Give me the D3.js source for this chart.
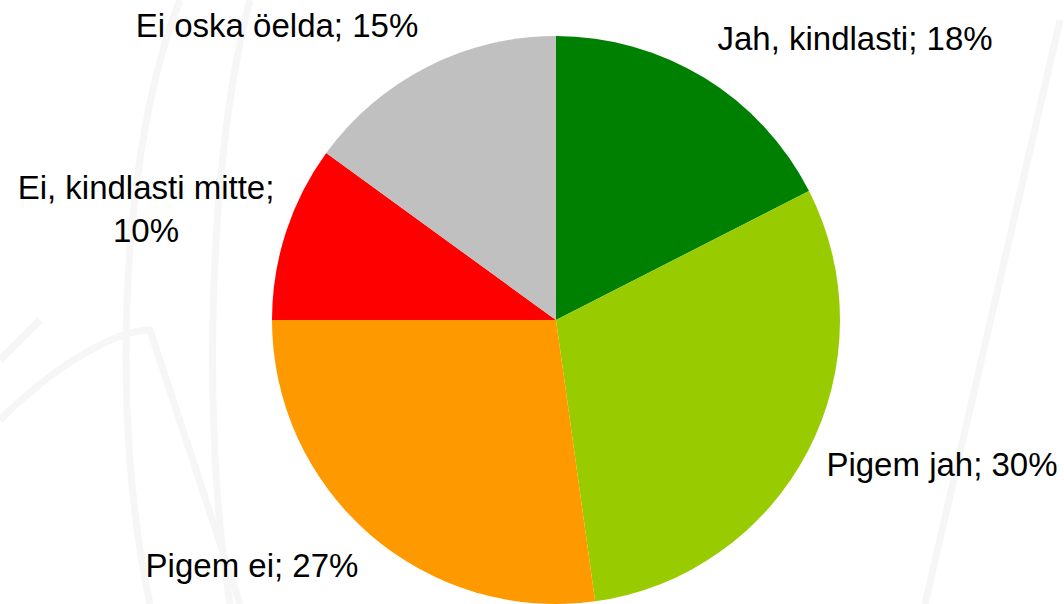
<!DOCTYPE html>
<html>
<head>
<meta charset="utf-8">
<script src="https://cdn.jsdelivr.net/npm/d3@7"></script>
<style>
  body { margin: 0; background: #fff; }
  svg { display: block; }
  text { font-family: "Liberation Sans", Arial, sans-serif; fill: #000; }
</style>
</head>
<body>
<div></div>
<script>
const categories = ["Jah, kindlasti", "Pigem jah", "Pigem ei", "Ei, kindlasti mitte", "Ei oska öelda"];
const values = [17.5, 30.3, 27.2, 10.0, 15.0];
const colors = ["#008000", "#99cc00", "#ff9900", "#ff0000", "#c0c0c0"];

const w = 1064;
const h = 604;
const cx = 556;
const cy = 320;
const radius = 284;

const svg = d3.select("div").append("svg").attr("width", w).attr("height", h);

// faint watermark strokes in the background
const wm = svg.append("g").attr("fill", "none").attr("stroke", "#f6f6f6").attr("stroke-width", 7);
wm.append("path").attr("d", "M180,0 C120,150 110,420 150,604");
wm.append("path").attr("d", "M250,0 C210,150 200,420 230,604");
wm.append("path").attr("d", "M1060,20 L925,604");
wm.append("path").attr("d", "M0,360 L40,320 M0,420 C60,360 120,330 150,330 L240,604");

const data = categories.map((c, i) => ({ name: c, value: values[i], color: colors[i] }));

const pie = d3.pie().sort(null).value((d) => d.value);
const arc = d3.arc().innerRadius(0).outerRadius(radius);

const g = svg.append("g").attr("transform", "translate(" + cx + "," + cy + ")");

g.selectAll("path")
  .data(pie(data))
  .enter()
  .append("path")
  .attr("d", arc)
  .attr("fill", (d) => d.data.color);

// label placement: [x, baseline y] per slice, relative to svg
const labelPos = [
  [855, 50],
  [942, 476],
  [252, 577],
  [146, 199],
  [277, 37]
];

const labels = svg.append("g").attr("font-size", 33).attr("text-anchor", "middle");

data.forEach((d, i) => {
  const txt = d.name + "; " + Math.round(d.value) + "%";
  const t = labels.append("text")
    .attr("x", labelPos[i][0])
    .attr("y", labelPos[i][1]);
  if (i === 3) {
    t.append("tspan").attr("x", labelPos[i][0]).text(d.name + ";");
    t.append("tspan").attr("x", labelPos[i][0]).attr("dy", 43).text(Math.round(d.value) + "%");
  } else {
    t.text(txt);
  }
});
</script>
</body>
</html>
